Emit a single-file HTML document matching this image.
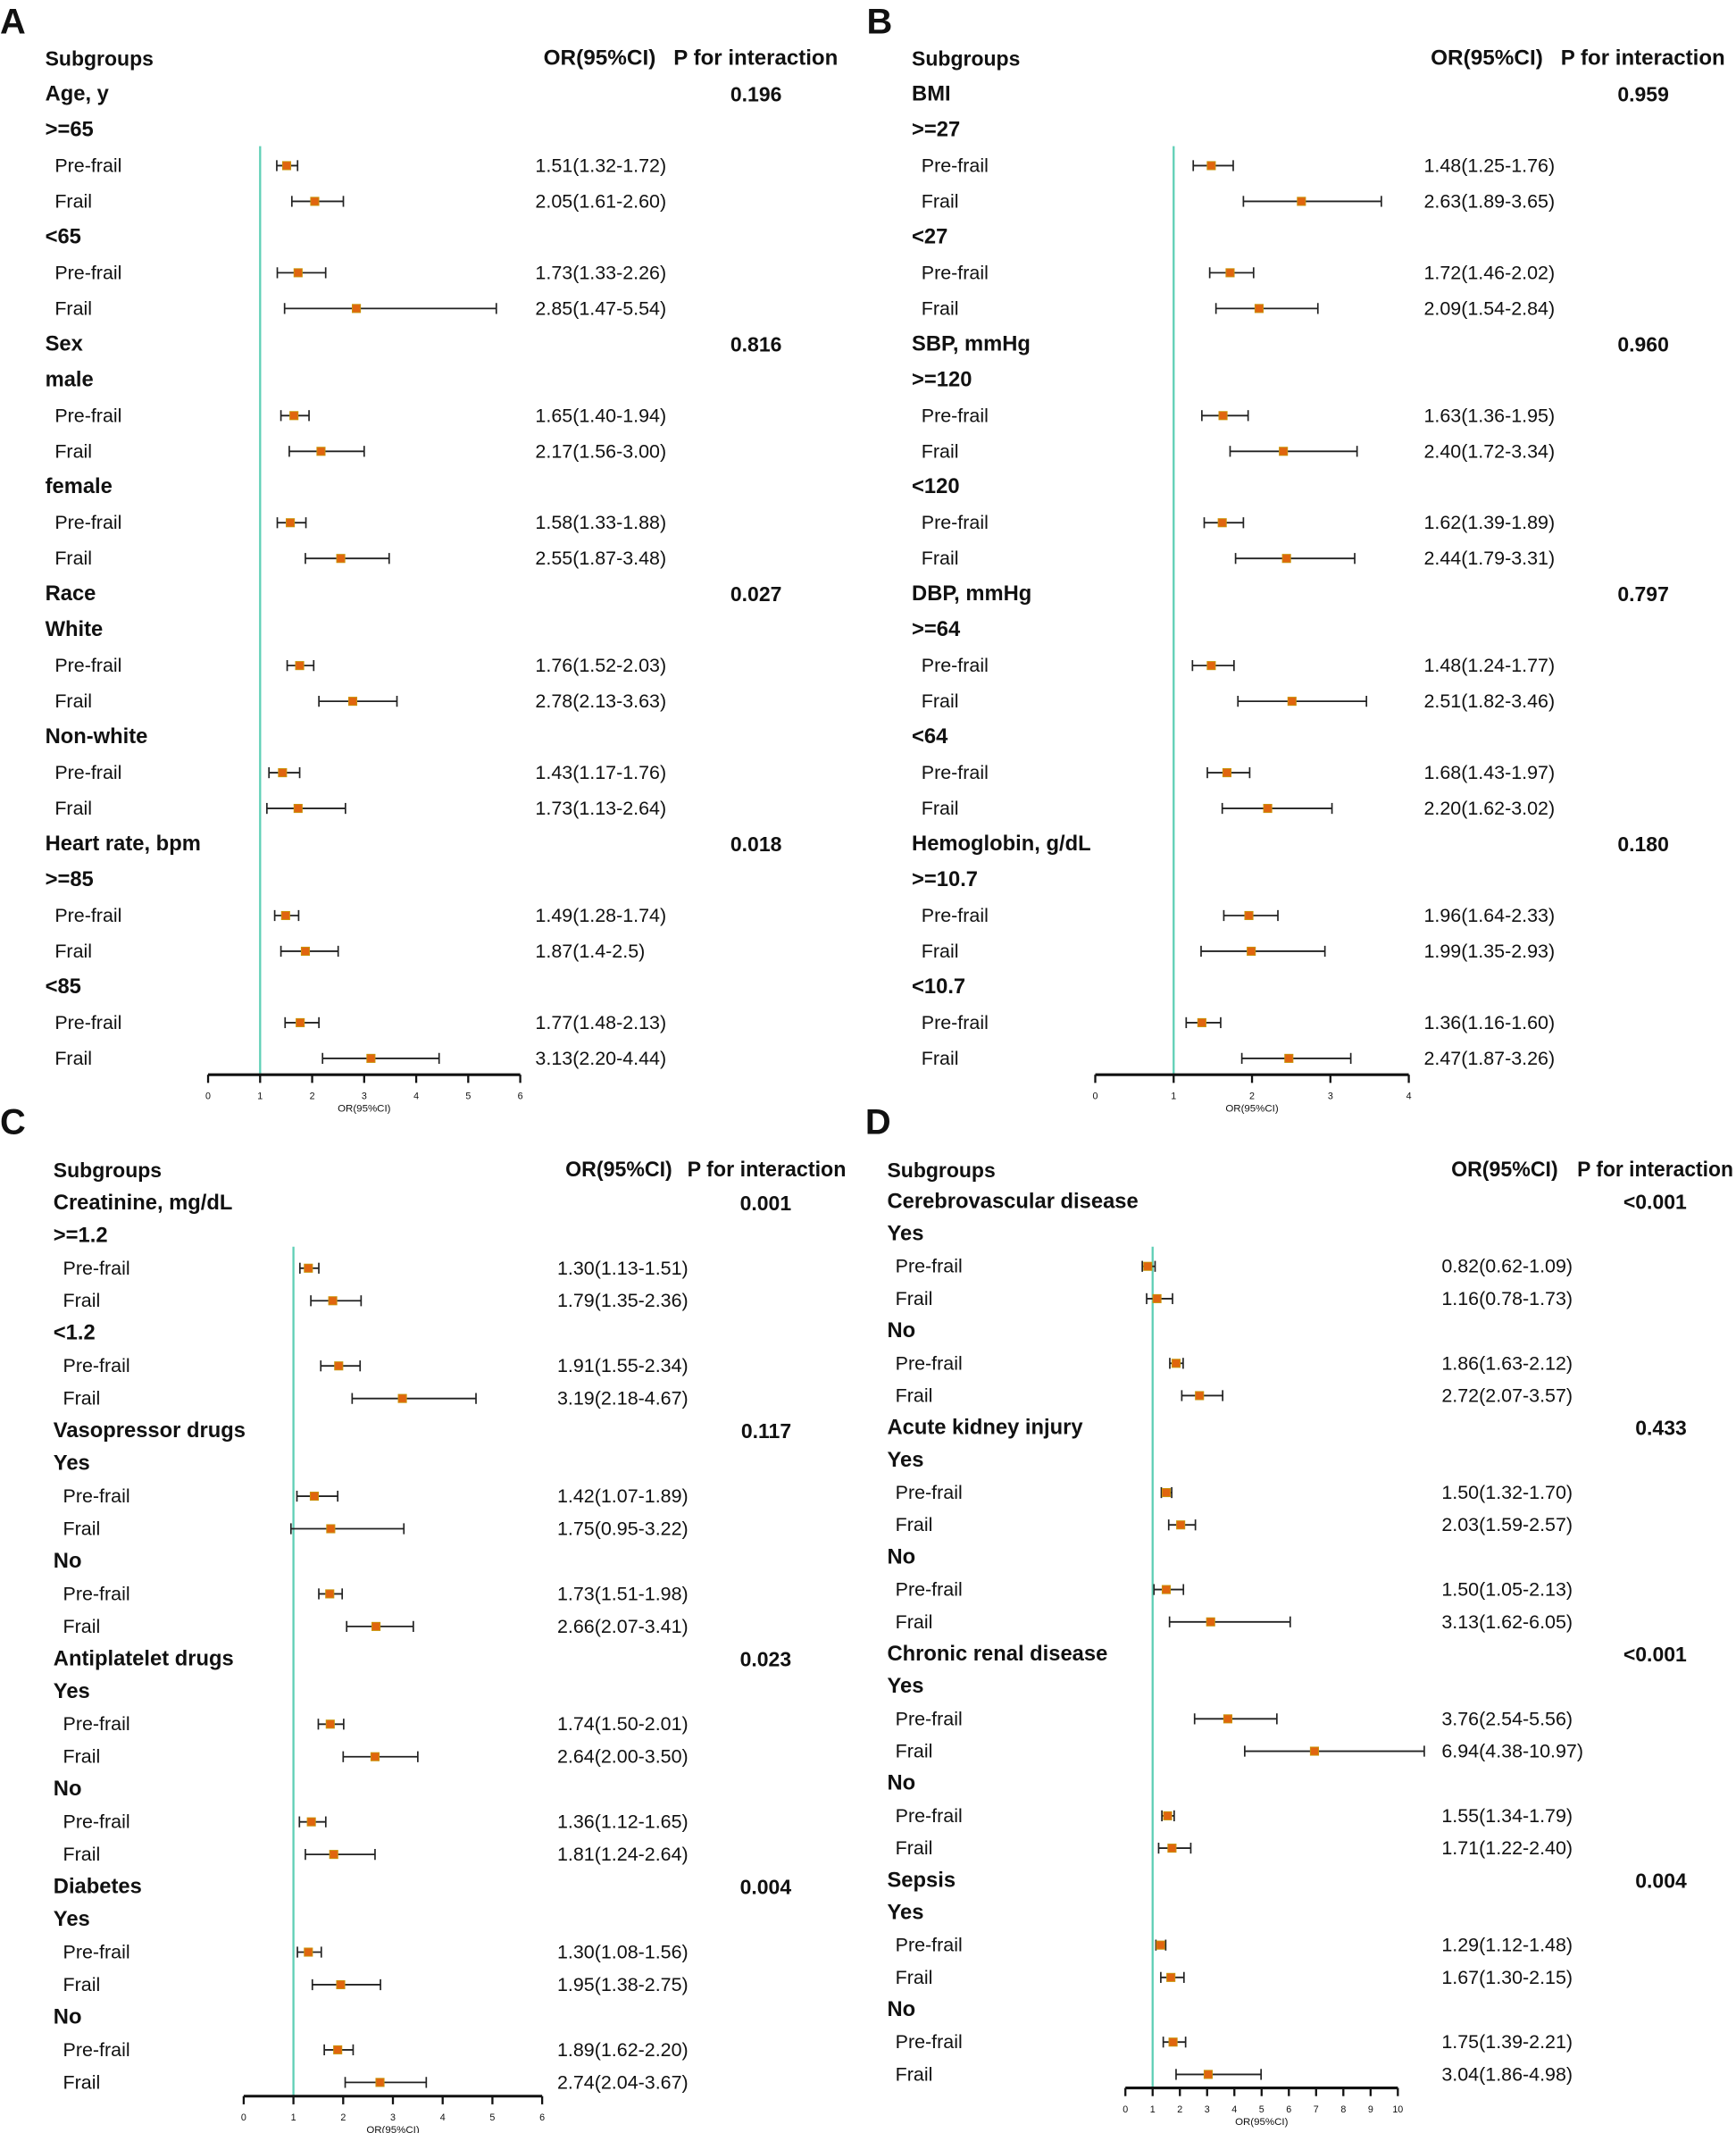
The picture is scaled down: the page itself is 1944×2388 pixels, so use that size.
<!DOCTYPE html>
<html><head><meta charset="utf-8"><style>
html,body{margin:0;padding:0;background:#fff;}
svg{display:block;font-family:"Liberation Sans",Arial,sans-serif;}
</style></head><body>
<svg id="fig" width="1944" height="2388" viewBox="0 0 1268 1562" preserveAspectRatio="none" xmlns="http://www.w3.org/2000/svg"></svg>
<script>
// ---- Panel A data ----
const aLabels=["Age, y",">=65","Pre-frail","Frail","<65","Pre-frail","Frail","Sex","male","Pre-frail","Frail","female","Pre-frail","Frail","Race","White","Pre-frail","Frail","Non-white","Pre-frail","Frail","Heart rate, bpm",">=85","Pre-frail","Frail","<85","Pre-frail","Frail"];
const aKinds=["c","s","p","p","s","p","p","c","s","p","p","s","p","p","c","s","p","p","s","p","p","c","s","p","p","s","p","p"];
const aOR=[null,null,1.51,2.05,null,1.73,2.85,null,null,1.65,2.17,null,1.58,2.55,null,null,1.76,2.78,null,1.43,1.73,null,null,1.49,1.87,null,1.77,3.13];
const aLo=[null,null,1.32,1.61,null,1.33,1.47,null,null,1.40,1.56,null,1.33,1.87,null,null,1.52,2.13,null,1.17,1.13,null,null,1.28,1.4,null,1.48,2.20];
const aHi=[null,null,1.72,2.60,null,2.26,5.54,null,null,1.94,3.00,null,1.88,3.48,null,null,2.03,3.63,null,1.76,2.64,null,null,1.74,2.5,null,2.13,4.44];
const aText=["","","1.51(1.32-1.72)","2.05(1.61-2.60)","","1.73(1.33-2.26)","2.85(1.47-5.54)","","","1.65(1.40-1.94)","2.17(1.56-3.00)","","1.58(1.33-1.88)","2.55(1.87-3.48)","","","1.76(1.52-2.03)","2.78(2.13-3.63)","","1.43(1.17-1.76)","1.73(1.13-2.64)","","","1.49(1.28-1.74)"," 1.87(1.4-2.5)","","1.77(1.48-2.13)","3.13(2.20-4.44)"];
const aP=["0.196","","","","","","","0.816","","","","","","","0.027","","","","","","","0.018","","","","","",""];
const aTicks=[0,1,2,3,4,5,6];
// ---- Panel B data ----
const bLabels=["BMI",">=27","Pre-frail","Frail","<27","Pre-frail","Frail","SBP, mmHg",">=120","Pre-frail","Frail","<120","Pre-frail","Frail","DBP, mmHg",">=64","Pre-frail","Frail","<64","Pre-frail","Frail","Hemoglobin, g/dL",">=10.7","Pre-frail","Frail","<10.7","Pre-frail","Frail"];
const bKinds=aKinds.slice();
const bOR=[null,null,1.48,2.63,null,1.72,2.09,null,null,1.63,2.40,null,1.62,2.44,null,null,1.48,2.51,null,1.68,2.20,null,null,1.96,1.99,null,1.36,2.47];
const bLo=[null,null,1.25,1.89,null,1.46,1.54,null,null,1.36,1.72,null,1.39,1.79,null,null,1.24,1.82,null,1.43,1.62,null,null,1.64,1.35,null,1.16,1.87];
const bHi=[null,null,1.76,3.65,null,2.02,2.84,null,null,1.95,3.34,null,1.89,3.31,null,null,1.77,3.46,null,1.97,3.02,null,null,2.33,2.93,null,1.60,3.26];
const bText=["","","1.48(1.25-1.76)","2.63(1.89-3.65)","","1.72(1.46-2.02)","2.09(1.54-2.84)","","","1.63(1.36-1.95)","2.40(1.72-3.34)","","1.62(1.39-1.89)","2.44(1.79-3.31)","","","1.48(1.24-1.77)","2.51(1.82-3.46)","","1.68(1.43-1.97)","2.20(1.62-3.02)","","","1.96(1.64-2.33)","1.99(1.35-2.93)","","1.36(1.16-1.60)","2.47(1.87-3.26)"];
const bP=["0.959","","","","","","","0.960","","","","","","","0.797","","","","","","","0.180","","","","","",""];
const bTicks=[0,1,2,3,4];
// ---- Panel C data ----
const cLabels=["Creatinine, mg/dL",">=1.2","Pre-frail","Frail","<1.2","Pre-frail","Frail","Vasopressor drugs","Yes","Pre-frail","Frail","No","Pre-frail","Frail","Antiplatelet drugs","Yes","Pre-frail","Frail","No","Pre-frail","Frail","Diabetes","Yes","Pre-frail","Frail","No","Pre-frail","Frail"];
const cKinds=aKinds.slice();
const cOR=[null,null,1.30,1.79,null,1.91,3.19,null,null,1.42,1.75,null,1.73,2.66,null,null,1.74,2.64,null,1.36,1.81,null,null,1.30,1.95,null,1.89,2.74];
const cLo=[null,null,1.13,1.35,null,1.55,2.18,null,null,1.07,0.95,null,1.51,2.07,null,null,1.50,2.00,null,1.12,1.24,null,null,1.08,1.38,null,1.62,2.04];
const cHi=[null,null,1.51,2.36,null,2.34,4.67,null,null,1.89,3.22,null,1.98,3.41,null,null,2.01,3.50,null,1.65,2.64,null,null,1.56,2.75,null,2.20,3.67];
const cText=["","","1.30(1.13-1.51)","1.79(1.35-2.36)","","1.91(1.55-2.34)","3.19(2.18-4.67)","","","1.42(1.07-1.89)","1.75(0.95-3.22)","","1.73(1.51-1.98)","2.66(2.07-3.41)","","","1.74(1.50-2.01)","2.64(2.00-3.50)","","1.36(1.12-1.65)","1.81(1.24-2.64)","","","1.30(1.08-1.56)","1.95(1.38-2.75)","","1.89(1.62-2.20)","2.74(2.04-3.67)"];
const cP=["0.001","","","","","","","0.117","","","","","","","0.023","","","","","","","0.004","","","","","",""];
const cTicks=[0,1,2,3,4,5,6];
// ---- Panel D data ----
const dLabels=["Cerebrovascular disease","Yes","Pre-frail","Frail","No","Pre-frail","Frail","Acute kidney injury","Yes","Pre-frail","Frail","No","Pre-frail","Frail","Chronic renal disease","Yes","Pre-frail","Frail","No","Pre-frail","Frail","Sepsis","Yes","Pre-frail","Frail","No","Pre-frail","Frail"];
const dKinds=aKinds.slice();
const dOR=[null,null,0.82,1.16,null,1.86,2.72,null,null,1.50,2.03,null,1.50,3.13,null,null,3.76,6.94,null,1.55,1.71,null,null,1.29,1.67,null,1.75,3.04];
const dLo=[null,null,0.62,0.78,null,1.63,2.07,null,null,1.32,1.59,null,1.05,1.62,null,null,2.54,4.38,null,1.34,1.22,null,null,1.12,1.30,null,1.39,1.86];
const dHi=[null,null,1.09,1.73,null,2.12,3.57,null,null,1.70,2.57,null,2.13,6.05,null,null,5.56,10.97,null,1.79,2.40,null,null,1.48,2.15,null,2.21,4.98];
const dText=["","","0.82(0.62-1.09)","1.16(0.78-1.73)","","1.86(1.63-2.12)","2.72(2.07-3.57)","","","1.50(1.32-1.70)","2.03(1.59-2.57)","","1.50(1.05-2.13)","3.13(1.62-6.05)","","","3.76(2.54-5.56)","6.94(4.38-10.97)","","1.55(1.34-1.79)","1.71(1.22-2.40)","","","1.29(1.12-1.48)","1.67(1.30-2.15)","","1.75(1.39-2.21)","3.04(1.86-4.98)"];
const dP=["<0.001","","","","","","","0.433","","","","","","","<0.001","","","","","","","0.004","","","","","",""];
const dTicks=[0,1,2,3,4,5,6,7,8,9,10];

const NS="http://www.w3.org/2000/svg";
const svg=document.getElementById('fig');
function mk(tag,attrs,parent){const e=document.createElementNS(NS,tag);for(const k in attrs)e.setAttribute(k,attrs[k]);(parent||svg).appendChild(e);return e;}
function txt(s,x,y,size,weight,anchor,parent){const t=mk('text',{x:x,y:y,'font-size':size,'font-weight':weight,'text-anchor':anchor||'start','dominant-baseline':'central',fill:'#111'},parent);t.textContent=s;return t;}

function panel(P){
  const g=mk('g',{});
  
  
  const L=txt(P.id,P.letterX,P.letterY,26,'bold','start',g);
  
  
  const h1=txt('Subgroups',P.subX,P.headY,15,'bold','start',g);
  
  
  const h2=txt('OR(95%CI)',P.orHX,P.headY,15.5,'bold','start',g);
  h2.setAttribute('textLength',P.orHW);
  h2.setAttribute('lengthAdjust','spacingAndGlyphs');
  
  
  const h3=txt('P for interaction',P.pHX,P.headY,15.5,'bold','start',g);
  h3.setAttribute('textLength',P.pHW);
  h3.setAttribute('lengthAdjust','spacingAndGlyphs');
  
  
  const x=v=>P.x0+(v-P.ticks[0])*(P.x1-P.x0)/(P.ticks[P.ticks.length-1]-P.ticks[0]);
  const y=i=>P.row0+i*P.rowH;
  const ref=mk('line',{x1:x(1),x2:x(1),y1:P.refTop,y2:P.axisY,stroke:'#5fcfb6','stroke-width':1.5},g);
  
  
  P.labels.forEach((lab,i)=>{
    const k=P.kinds[i];
    const lx=k==='p'?P.preX:P.subX;
    const t=txt(lab,lx,y(i),k==='p'?14:15.5,k==='p'?'normal':'bold','start',g);
    
    
    if(P.p[i]){const pt=txt(P.p[i],P.pX,y(i),15,'bold','end',g);
      
      }
    if(P.or[i]!=null){
      const ot=txt(P.text[i],P.valX,y(i),14,'normal','start',g);
      
      
      const w=mk('line',{x1:x(P.lo[i]),x2:x(P.hi[i]),y1:y(i),y2:y(i),stroke:'#222','stroke-width':1.2},g);
      
      
      [P.lo[i],P.hi[i]].forEach(v=>{const c=mk('line',{x1:x(v),x2:x(v),y1:y(i)-4,y2:y(i)+4,stroke:'#222','stroke-width':1.1},g);
        
        });
      const m=mk('rect',{x:x(P.or[i])-3,y:y(i)-3,width:6,height:6,fill:'#e0650f',stroke:'#c8960a','stroke-width':0.6},g);
      
      
    }
  });
  const ax=mk('line',{x1:P.x0,x2:P.x1,y1:P.axisY,y2:P.axisY,stroke:'#111','stroke-width':2},g);
  
  
  P.ticks.forEach(t=>{
    const tk=mk('line',{x1:x(t),x2:x(t),y1:P.axisY,y2:P.axisY+6,stroke:'#111','stroke-width':1.5},g);
    
    
    const tl=txt(String(t),x(t),P.axisY+16,7,'normal','middle',g);
    
    
  });
  const at=txt('OR(95%CI)',(P.x0+P.x1)/2,P.axisY+25,7.5,'normal','middle',g);
  
  
}
panel({id:'A',letterX:0,letterY:16,headY:43,subX:33,preX:40,orHX:397,orHW:82,pHX:492,pHW:120,pX:571,valX:391,row0:69,rowH:26.15,refTop:107,axisY:787,x0:152,x1:380,ticks:aTicks,labels:aLabels,kinds:aKinds,or:aOR,lo:aLo,hi:aHi,text:aText,p:aP});
panel({id:'B',letterX:633,letterY:16,headY:43,subX:666,preX:673,orHX:1045,orHW:82,pHX:1140,pHW:120,pX:1219,valX:1040,row0:69,rowH:26.15,refTop:107,axisY:787,x0:800,x1:1029,ticks:bTicks,labels:bLabels,kinds:bKinds,or:bOR,lo:bLo,hi:bHi,text:bText,p:bP});
panel({id:'C',letterX:0,letterY:822,headY:857,subX:39,preX:46,orHX:413,orHW:78,pHX:502,pHW:116,pX:578,valX:407,row0:881,rowH:23.85,refTop:913,axisY:1535,x0:178,x1:396,ticks:cTicks,labels:cLabels,kinds:cKinds,or:cOR,lo:cLo,hi:cHi,text:cText,p:cP});
panel({id:'D',letterX:632,letterY:822,headY:857,subX:648,preX:654,orHX:1060,orHW:78,pHX:1152,pHW:114,pX:1232,valX:1053,row0:880,rowH:23.67,refTop:913,axisY:1529,x0:822,x1:1021,ticks:dTicks,labels:dLabels,kinds:dKinds,or:dOR,lo:dLo,hi:dHi,text:dText,p:dP});
</script>
</body></html>
